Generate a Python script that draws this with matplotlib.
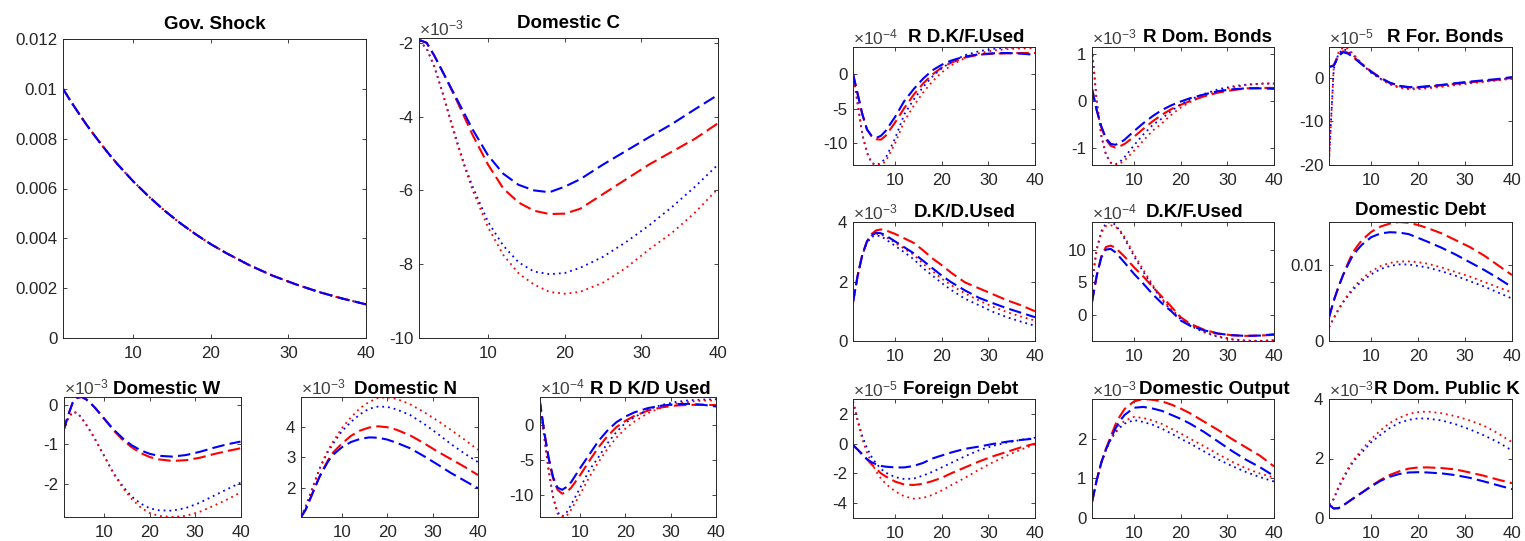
import matplotlib
matplotlib.use('Agg')
import matplotlib.pyplot as plt
from matplotlib.ticker import FuncFormatter

plt.rcParams['font.family'] = ['Liberation Sans', 'DejaVu Sans']
plt.rcParams['mathtext.fontset'] = 'custom'
plt.rcParams['mathtext.rm'] = 'Liberation Sans'
plt.rcParams['axes.unicode_minus'] = False

W, H = 1525, 541

# periods
X = [1, 2, 3, 4, 5, 6, 7, 8, 10, 12, 14, 16, 18, 20, 22, 25, 28, 31, 34, 37, 40]

# ---- data (rd = red dashed, bd = blue dashed, rt = red dotted, bt = blue dotted)
gov_shock = [0.01, 0.0095, 0.00903, 0.00857, 0.00815, 0.00774, 0.00735, 0.00698, 0.0063, 0.00569, 0.00513,
             0.00463, 0.00418, 0.00377, 0.00341, 0.00292, 0.0025, 0.00215, 0.00184, 0.00158, 0.00135]

domc_rd = [-1.92, -2.0, -2.35, -2.75, -3.17, -3.6, -4.05, -4.5, -5.3, -5.95, -6.33, -6.55, -6.64, -6.63, -6.5, -6.1, -5.7, -5.3, -4.95, -4.6, -4.18]
domc_bd = [-1.92, -2.0, -2.35, -2.75, -3.15, -3.55, -3.95, -4.35, -5.05, -5.55, -5.85, -6.0, -6.05, -5.9, -5.7, -5.3, -4.93, -4.56, -4.2, -3.8, -3.41]
domc_rt = [-1.95, -2.15, -2.65, -3.3, -4.05, -4.75, -5.4, -6.0, -7.0, -7.75, -8.25, -8.55, -8.75, -8.8, -8.75, -8.5, -8.1, -7.6, -7.15, -6.6, -5.95]
domc_bt = [-1.95, -2.15, -2.65, -3.3, -4.0, -4.7, -5.35, -5.9, -6.85, -7.5, -7.95, -8.2, -8.27, -8.24, -8.1, -7.8, -7.4, -6.95, -6.45, -5.9, -5.3]

domw_rd = [-0.66, -0.27, 0.05, 0.18, 0.2, 0.14, 0.04, -0.08, -0.36, -0.64, -0.88, -1.07, -1.22, -1.32, -1.38, -1.42, -1.4, -1.34, -1.25, -1.17, -1.1]
domw_bd = [-0.66, -0.27, 0.05, 0.18, 0.2, 0.14, 0.04, -0.08, -0.35, -0.62, -0.84, -1.02, -1.15, -1.24, -1.29, -1.31, -1.27, -1.19, -1.09, -1.0, -0.93]
domw_rt = [-0.66, -0.35, -0.18, -0.2, -0.33, -0.5, -0.68, -0.88, -1.3, -1.74, -2.09, -2.38, -2.6, -2.74, -2.81, -2.84, -2.81, -2.71, -2.56, -2.4, -2.22]
domw_bt = [-0.66, -0.35, -0.18, -0.2, -0.33, -0.5, -0.68, -0.88, -1.3, -1.72, -2.05, -2.32, -2.5, -2.62, -2.67, -2.68, -2.61, -2.48, -2.31, -2.14, -1.97]

domn_rd = [1.07, 1.3, 1.65, 2.0, 2.35, 2.65, 2.92, 3.15, 3.45, 3.7, 3.87, 3.97, 4.01, 3.98, 3.9, 3.72, 3.47, 3.2, 2.95, 2.7, 2.43]
domn_bd = [1.07, 1.3, 1.65, 2.0, 2.35, 2.62, 2.88, 3.08, 3.33, 3.5, 3.6, 3.65, 3.64, 3.58, 3.48, 3.3, 3.05, 2.78, 2.5, 2.25, 2.0]
domn_rt = [1.07, 1.4, 1.8, 2.2, 2.6, 2.95, 3.25, 3.5, 3.95, 4.3, 4.6, 4.8, 4.93, 4.95, 4.9, 4.73, 4.48, 4.2, 3.9, 3.58, 3.25]
domn_bt = [1.07, 1.4, 1.8, 2.2, 2.6, 2.92, 3.2, 3.43, 3.85, 4.15, 4.4, 4.58, 4.65, 4.64, 4.56, 4.38, 4.1, 3.78, 3.44, 3.13, 2.85]

rdkd_rd = [3.7, -0.8, -4.7, -7.6, -9.2, -9.75, -9.5, -8.9, -7.1, -5.1, -3.2, -1.6, -0.3, 0.6, 1.3, 2.05, 2.5, 2.75, 2.85, 2.87, 2.82]
rdkd_bd = [3.7, -0.8, -4.6, -7.4, -8.9, -9.2, -8.8, -8.1, -6.1, -4.2, -2.3, -0.8, 0.4, 1.2, 1.8, 2.4, 2.75, 2.95, 3.0, 2.87, 2.63]
rdkd_rt = [3.7, -1.5, -6.3, -10.3, -12.6, -13.05, -12.9, -12.0, -9.8, -7.4, -5.3, -3.4, -1.8, -0.5, 0.5, 1.7, 2.5, 3.0, 3.3, 3.45, 3.5]
rdkd_bt = [3.7, -1.5, -6.3, -10.2, -12.4, -13.0, -12.4, -11.3, -8.9, -6.4, -4.6, -2.6, -1.0, 0.3, 1.1, 2.2, 2.85, 3.25, 3.5, 3.6, 3.65]

rdkf_rd = [0.0, -2.9, -5.8, -8.0, -9.0, -9.4, -9.45, -8.9, -7.0, -4.9, -3.0, -1.4, -0.1, 0.9, 1.6, 2.35, 2.75, 2.9, 2.95, 3.0, 3.0]
rdkf_bd = [0.0, -2.9, -5.8, -8.0, -8.9, -9.2, -8.9, -8.2, -6.2, -3.9, -2.2, -0.7, 0.5, 1.3, 1.9, 2.5, 2.8, 2.95, 3.0, 2.9, 2.75]
rdkf_rt = [0.0, -4.3, -8.7, -11.35, -12.8, -13.1, -13.05, -12.6, -10.0, -6.8, -4.6, -2.7, -1.1, 0.2, 1.2, 2.3, 2.95, 3.35, 3.55, 3.65, 3.7]
rdkf_bt = [0.0, -4.3, -8.7, -11.35, -12.8, -13.1, -12.8, -12.1, -9.3, -5.8, -3.7, -1.9, -0.4, 0.8, 1.7, 2.7, 3.25, 3.6, 3.75, 3.82, 3.86]

rdb_rd = [0.25, -0.2, -0.57, -0.83, -0.96, -1.0, -0.97, -0.92, -0.77, -0.6, -0.44, -0.3, -0.18, -0.09, -0.01, 0.09, 0.17, 0.22, 0.26, 0.27, 0.27]
rdb_bd = [0.25, -0.2, -0.55, -0.8, -0.92, -0.94, -0.9, -0.83, -0.65, -0.48, -0.33, -0.2, -0.1, -0.02, 0.05, 0.13, 0.2, 0.24, 0.26, 0.26, 0.25]
rdb_rt = [1.1, 0.0, -0.75, -1.15, -1.32, -1.37, -1.34, -1.27, -1.07, -0.85, -0.64, -0.48, -0.3, -0.15, -0.03, 0.1, 0.2, 0.28, 0.33, 0.36, 0.37]
rdb_bt = [1.1, 0.0, -0.75, -1.15, -1.32, -1.36, -1.3, -1.2, -0.95, -0.72, -0.52, -0.38, -0.22, -0.08, 0.02, 0.14, 0.24, 0.3, 0.34, 0.36, 0.36]

rfb_rd = [2.5, 2.9, 5.2, 6.1, 5.8, 5.0, 4.1, 3.2, 1.5, 0.0, -1.2, -1.9, -2.2, -2.2, -2.0, -1.7, -1.35, -1.0, -0.7, -0.4, 0.0]
rfb_bd = [2.5, 2.8, 5.0, 5.9, 5.6, 4.9, 4.0, 3.1, 1.4, 0.0, -1.1, -1.8, -2.1, -2.1, -1.9, -1.6, -1.2, -0.85, -0.55, -0.25, 0.2]
rfb_rt = [-19.5, 2.2, 5.8, 7.0, 6.7, 5.7, 4.5, 3.3, 1.2, -0.3, -1.5, -2.3, -2.6, -2.6, -2.4, -2.05, -1.65, -1.25, -0.9, -0.55, -0.2]
rfb_bt = [-19.0, 2.0, 5.5, 6.6, 6.3, 5.4, 4.3, 3.2, 1.2, -0.2, -1.4, -2.1, -2.4, -2.4, -2.2, -1.9, -1.5, -1.1, -0.75, -0.45, -0.1]

dkd_rd = [1.3, 2.2, 2.9, 3.35, 3.6, 3.72, 3.75, 3.72, 3.6, 3.45, 3.3, 3.05, 2.78, 2.55, 2.3, 1.97, 1.77, 1.57, 1.37, 1.2, 1.0]
dkd_bd = [1.3, 2.2, 2.9, 3.35, 3.55, 3.64, 3.62, 3.55, 3.35, 3.15, 2.95, 2.7, 2.45, 2.2, 1.98, 1.7, 1.45, 1.27, 1.1, 0.95, 0.8]
dkd_rt = [1.3, 2.2, 2.9, 3.35, 3.55, 3.6, 3.58, 3.5, 3.3, 3.1, 2.9, 2.6, 2.35, 2.1, 1.88, 1.6, 1.36, 1.15, 0.97, 0.82, 0.69]
dkd_bt = [1.3, 2.2, 2.9, 3.3, 3.5, 3.55, 3.52, 3.42, 3.2, 2.98, 2.75, 2.45, 2.2, 1.95, 1.72, 1.42, 1.2, 0.98, 0.8, 0.65, 0.51]

dkf_rd = [2.0, 6.0, 9.0, 10.4, 10.6, 10.3, 9.6, 8.9, 7.3, 5.9, 4.3, 2.8, 1.3, -0.3, -1.3, -2.2, -2.8, -3.05, -3.15, -3.1, -3.0]
dkf_bd = [2.0, 6.0, 8.8, 10.0, 10.1, 9.6, 8.8, 8.0, 6.3, 4.8, 3.2, 1.8, 0.6, -0.8, -1.6, -2.3, -2.8, -3.05, -3.15, -3.1, -2.9]
dkf_rt = [5.0, 10.0, 12.6, 13.6, 13.7, 13.5, 12.9, 11.9, 9.3, 6.9, 4.6, 2.5, 0.9, -0.4, -1.4, -2.5, -3.2, -3.65, -3.85, -3.9, -3.8]
dkf_bt = [5.0, 10.0, 12.8, 14.0, 14.2, 13.8, 12.8, 11.6, 9.0, 6.6, 4.4, 2.3, 0.7, -0.6, -1.6, -2.6, -3.3, -3.7, -3.9, -3.93, -3.85]

ddebt_rd = [0.0031, 0.0053, 0.0071, 0.0087, 0.0102, 0.0116, 0.0125, 0.0133, 0.0144, 0.0151, 0.0155, 0.0157, 0.0156, 0.0153, 0.0149, 0.0142, 0.0133, 0.0124, 0.0113, 0.01, 0.0087]
ddebt_bd = [0.0031, 0.0053, 0.0071, 0.0087, 0.01, 0.0112, 0.012, 0.0127, 0.0137, 0.0142, 0.01435, 0.0143, 0.0141, 0.0136, 0.0131, 0.0123, 0.0114, 0.0104, 0.0094, 0.0083, 0.0071]
ddebt_rt = [0.0018, 0.003, 0.0042, 0.0052, 0.0061, 0.0069, 0.0076, 0.0082, 0.0092, 0.0099, 0.0103, 0.0105, 0.0105, 0.0104, 0.0102, 0.0097, 0.0091, 0.0085, 0.0078, 0.0071, 0.0064]
ddebt_bt = [0.0018, 0.003, 0.0041, 0.0051, 0.0059, 0.0067, 0.0073, 0.0079, 0.0088, 0.0095, 0.0099, 0.0101, 0.0101, 0.0099, 0.0097, 0.0092, 0.0086, 0.0079, 0.0072, 0.0064, 0.0056]

fdebt_rd = [-0.1, -0.4, -0.7, -1.05, -1.4, -1.7, -2.0, -2.2, -2.55, -2.75, -2.78, -2.7, -2.52, -2.3, -2.0, -1.6, -1.2, -0.85, -0.55, -0.25, 0.0]
fdebt_bd = [-0.1, -0.4, -0.75, -1.05, -1.25, -1.4, -1.5, -1.55, -1.6, -1.6, -1.5, -1.3, -1.0, -0.8, -0.6, -0.35, -0.2, -0.02, 0.13, 0.25, 0.34]
fdebt_rt = [2.85, 1.5, 0.3, -0.6, -1.3, -1.9, -2.35, -2.7, -3.2, -3.55, -3.7, -3.65, -3.45, -3.15, -2.8, -2.3, -1.75, -1.25, -0.8, -0.4, -0.05]
fdebt_bt = [2.85, 1.6, 0.5, -0.3, -0.9, -1.35, -1.7, -1.95, -2.25, -2.38, -2.35, -2.15, -1.9, -1.6, -1.3, -0.85, -0.45, -0.15, 0.08, 0.25, 0.4]

dout_rd = [0.4, 0.95, 1.4, 1.75, 2.05, 2.35, 2.57, 2.75, 2.94, 3.0, 2.98, 2.94, 2.86, 2.76, 2.64, 2.43, 2.22, 1.99, 1.78, 1.57, 1.3]
dout_bd = [0.4, 0.95, 1.4, 1.73, 2.0, 2.25, 2.45, 2.6, 2.78, 2.8, 2.76, 2.7, 2.6, 2.5, 2.38, 2.17, 1.93, 1.69, 1.47, 1.28, 1.06]
dout_rt = [0.4, 0.95, 1.4, 1.73, 2.0, 2.2, 2.35, 2.45, 2.55, 2.52, 2.46, 2.37, 2.25, 2.13, 2.0, 1.81, 1.61, 1.42, 1.25, 1.12, 1.02]
dout_bt = [0.4, 0.95, 1.4, 1.72, 1.97, 2.15, 2.28, 2.38, 2.47, 2.42, 2.35, 2.25, 2.13, 2.0, 1.88, 1.68, 1.48, 1.31, 1.16, 1.03, 0.92]

rpk_rd = [0.45, 0.32, 0.33, 0.42, 0.53, 0.64, 0.75, 0.85, 1.08, 1.28, 1.45, 1.57, 1.66, 1.7, 1.7, 1.68, 1.63, 1.53, 1.42, 1.29, 1.17]
rpk_bd = [0.45, 0.32, 0.33, 0.42, 0.53, 0.64, 0.75, 0.85, 1.06, 1.25, 1.39, 1.48, 1.53, 1.54, 1.53, 1.5, 1.44, 1.35, 1.23, 1.1, 0.97]
rpk_rt = [0.45, 0.65, 1.05, 1.35, 1.65, 1.9, 2.1, 2.3, 2.65, 2.95, 3.2, 3.37, 3.5, 3.56, 3.58, 3.52, 3.42, 3.28, 3.1, 2.85, 2.55]
rpk_bt = [0.45, 0.63, 1.0, 1.3, 1.6, 1.85, 2.05, 2.2, 2.55, 2.8, 3.03, 3.2, 3.3, 3.35, 3.34, 3.28, 3.15, 2.98, 2.78, 2.55, 2.27]


def rect(l, r, t, b):
    return [l / W, (H - b) / H, (r - l) / W, (b - t) / H]


def draw_panel(fig, box, title, tx, pad, expo, yticks, ylim, rd, bd, rt, bt):
    ax = fig.add_axes(rect(*box))
    # drawing order so that blue dashes sit on top, red dots show through the gaps
    ax.plot(X, rd, color='red', ls=(0, (6, 2.5)), lw=1.5)
    ax.plot(X, bt, color='blue', ls=(0, (1, 2.2)), lw=1.3)
    ax.plot(X, rt, color='red', ls=(0, (1, 2.2)), lw=1.3)
    ax.plot(X, bd, color='blue', ls=(0, (6, 2.5)), lw=1.5)
    ax.set_xlim(1, 40)
    ax.set_xticks([10, 20, 30, 40])
    ax.set_ylim(*ylim)
    ax.set_yticks(yticks)
    ax.yaxis.set_major_formatter(FuncFormatter(lambda v, p: '{:g}'.format(round(v, 6))))
    ax.tick_params(direction='in', length=3, width=0.6, colors='#262626', labelsize=12.2,
                   top=True, right=True)
    ax.tick_params(axis='x', pad=6)
    ax.tick_params(axis='y', pad=4)
    for s in ax.spines.values():
        s.set_color('#262626')
        s.set_linewidth(0.7)
    ax.set_title(title, x=tx, pad=pad, fontsize=13.5, fontweight='bold', color='black')
    if expo is not None:
        ax.text(0.0, 1.0, r'$\times\mathregular{10^{%d}}$' % expo, transform=ax.transAxes,
                ha='left', va='bottom', fontsize=12.5, color='#404040')
    return ax


fig = plt.figure(figsize=(W / 100, H / 100), dpi=100)

# left block
draw_panel(fig, (63, 366, 39, 338), 'Gov. Shock', 0.5, 7, None, [0, 0.002, 0.004, 0.006, 0.008, 0.01, 0.012],
           (0, 0.012), gov_shock, gov_shock, gov_shock, gov_shock)
draw_panel(fig, (419, 718, 38, 338), 'Domestic C', 0.5, 7, -3, [-10, -8, -6, -4, -2], (-10, -1.87),
           domc_rd, domc_bd, domc_rt, domc_bt)
draw_panel(fig, (63.5, 240.5, 397, 517), 'Domestic W', 0.58, 2.5, -3, [-2, -1, 0], (-2.84, 0.2),
           domw_rd, domw_bd, domw_rt, domw_bt)
draw_panel(fig, (301, 478, 397, 517), 'Domestic N', 0.59, 2.5, -3, [2, 3, 4], (1.07, 4.96),
           domn_rd, domn_bd, domn_rt, domn_bt)
draw_panel(fig, (539.5, 716, 397, 517), 'R D K/D Used', 0.63, 2.5, -4, [-10, -5, 0], (-13.06, 3.97),
           rdkd_rd, rdkd_bd, rdkd_rt, rdkd_bt)

# right 3x3 grid
cols = [(853, 1035), (1092, 1274), (1329, 1512)]
rows = [(47, 165), (222, 341), (399, 518)]

draw_panel(fig, (*cols[0], *rows[0]), 'R D.K/F.Used', 0.62, 3.5, -4, [-10, -5, 0], (-13.1, 3.86),
           rdkf_rd, rdkf_bd, rdkf_rt, rdkf_bt)
draw_panel(fig, (*cols[1], *rows[0]), 'R Dom. Bonds', 0.635, 3.5, -3, [-1, 0, 1], (-1.37, 1.14),
           rdb_rd, rdb_bd, rdb_rt, rdb_bt)
draw_panel(fig, (*cols[2], *rows[0]), 'R For. Bonds', 0.635, 3.5, -5, [-20, -10, 0], (-20, 7.1),
           rfb_rd, rfb_bd, rfb_rt, rfb_bt)
draw_panel(fig, (*cols[0], *rows[1]), 'D.K/D.Used', 0.615, 3.5, -3, [0, 2, 4], (0, 4),
           dkd_rd, dkd_bd, dkd_rt, dkd_bt)
draw_panel(fig, (*cols[1], *rows[1]), 'D.K/F.Used', 0.566, 3.5, -4, [0, 5, 10], (-3.93, 14.2),
           dkf_rd, dkf_bd, dkf_rt, dkf_bt)
draw_panel(fig, (*cols[2], *rows[1]), 'Domestic Debt', 0.5, 5, None, [0, 0.01], (0, 0.0157),
           ddebt_rd, ddebt_bd, ddebt_rt, ddebt_bt)
draw_panel(fig, (*cols[0], *rows[2]), 'Foreign Debt', 0.59, 3.5, -5, [-4, -2, 0, 2], (-5, 3),
           fdebt_rd, fdebt_bd, fdebt_rt, fdebt_bt)
draw_panel(fig, (*cols[1], *rows[2]), 'Domestic Output', 0.67, 3.5, -3, [0, 1, 2], (0, 3.0),
           dout_rd, dout_bd, dout_rt, dout_bt)
draw_panel(fig, (*cols[2], *rows[2]), 'R Dom. Public K', 0.645, 3.5, -3, [0, 2, 4], (0, 4),
           rpk_rd, rpk_bd, rpk_rt, rpk_bt)

fig.savefig('out.png', dpi=100)
